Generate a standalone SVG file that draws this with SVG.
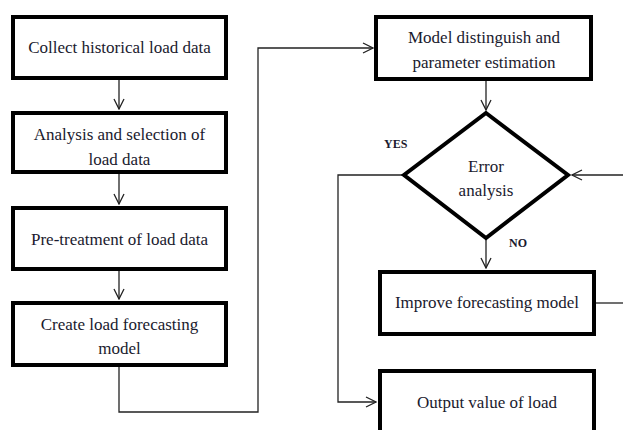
<svg xmlns="http://www.w3.org/2000/svg" width="623" height="430" viewBox="0 0 623 430">
<style>
.box{fill:#fff;stroke:#000;stroke-width:4}
.t{font-family:'Liberation Serif','Times New Roman',serif;font-size:17px;fill:#1a1a2e;text-anchor:middle}
.lbl{font-family:'Liberation Serif','Times New Roman',serif;font-size:12px;font-weight:bold;fill:#1a1a2e}
.c{fill:none;stroke:#222;stroke-width:1.3}
</style>
<defs>
<marker id="a" viewBox="0 0 12 12" refX="11" refY="6" markerWidth="12" markerHeight="12" markerUnits="userSpaceOnUse" orient="auto">
<path d="M1,1 L11,6 L1,11" fill="none" stroke="#222" stroke-width="1.3"/>
</marker>
</defs>
<rect width="623" height="430" fill="#fff"/>
<g id="connectors">
<path class="c" d="M119,80 V109" marker-end="url(#a)"/>
<path class="c" d="M119,174 V204" marker-end="url(#a)"/>
<path class="c" d="M119,271 V299" marker-end="url(#a)"/>
<path class="c" d="M119,367 V412 H258 V48 H373" marker-end="url(#a)"/>
<path class="c" d="M486,81 V110" marker-end="url(#a)"/>
<path class="c" d="M402,175 H338 V402 H376" marker-end="url(#a)"/>
<path class="c" d="M486,239 V268" marker-end="url(#a)"/>
<path class="c" d="M596,303 H623"/>
<path class="c" d="M623,175 H572" marker-end="url(#a)"/>
<text class="lbl" x="384" y="148">YES</text>
<text class="lbl" x="509" y="247">NO</text>
</g>
<g id="n1"><rect class="box" x="13" y="17" width="213" height="61"/><text class="t" x="119.5" y="53">Collect historical load data</text></g>
<g id="n2"><rect class="box" x="13" y="113" width="213" height="59"/><text class="t" x="119.5" y="140">Analysis and selection of</text><text class="t" x="119.5" y="165">load data</text></g>
<g id="n3"><rect class="box" x="13" y="208" width="213" height="61"/><text class="t" x="119.5" y="245">Pre-treatment of load data</text></g>
<g id="n4"><rect class="box" x="13" y="303" width="213" height="62"/><text class="t" x="119.5" y="330">Create load forecasting</text><text class="t" x="119.5" y="354">model</text></g>
<g id="n5"><rect class="box" x="376" y="17" width="215" height="62"/><text class="t" x="484" y="43">Model distinguish and</text><text class="t" x="484" y="68">parameter estimation</text></g>
<g id="n6"><polygon points="486,113 568,175 486,238 404,175" fill="#fff" stroke="#000" stroke-width="4"/><text class="t" x="486" y="172">Error</text><text class="t" x="486" y="196">analysis</text></g>
<g id="n7"><rect class="box" x="380" y="272" width="214" height="62"/><text class="t" x="487" y="308">Improve forecasting model</text></g>
<g id="n8"><rect class="box" x="380" y="371" width="214" height="70"/><text class="t" x="487" y="408">Output value of load</text></g>
</svg>
